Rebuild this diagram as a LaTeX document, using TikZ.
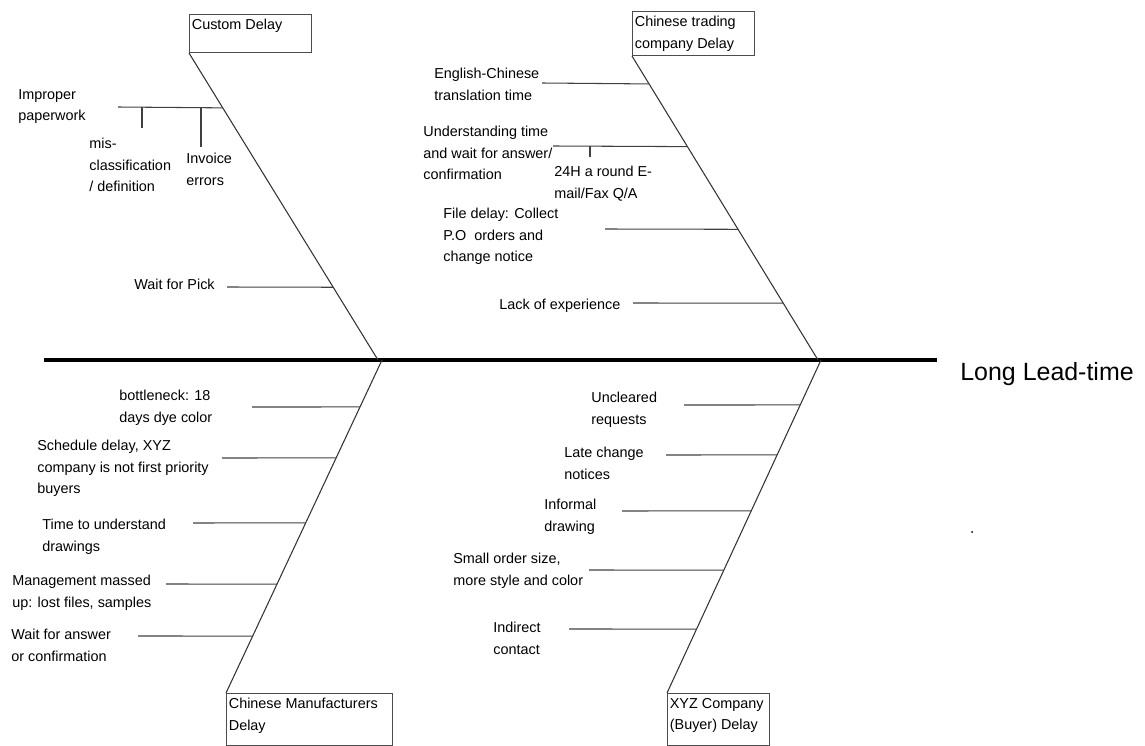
\documentclass[tikz,border=0pt]{standalone}
\usepackage{fontspec}
\setmainfont{Liberation Sans}
\usetikzlibrary{calc}
\begin{document}
\begin{tikzpicture}[x=0.02cm,y=-0.02cm,
  txt/.style={anchor=north west, inner sep=0pt, align=left, font=\fontsize{8.2}{12.1}\selectfont},
  box/.style={draw=black!70, line width=0.6pt, anchor=north west, inner sep=0pt},
  boxtext/.style={anchor=north west, inner sep=0pt, xshift=0.05cm, yshift=-0.1cm, align=left, font=\fontsize{8.2}{12.1}\selectfont},
  bone/.style={line width=0.6pt, draw=black!80},
  twig/.style={line width=0.6pt, draw=black!75},
  spine/.style={line width=2.3pt, draw=black}]
\useasboundingbox (0,0) rectangle (1145,746);

% main spine and effect
\coordinate (tail) at (44,360);
\coordinate (head) at (937,360);
\coordinate (jul) at (378,360);
\coordinate (jll) at (382,360);
\coordinate (jur) at (818,360);
\coordinate (jlr) at (821,360);
\draw[spine] (tail) -- (head);
\node[anchor=base west, inner sep=0pt, font=\fontsize{14.2}{17}\selectfont] (effect) at (960,380) {Long Lead-time};

% category boxes
\node[box, minimum width=2.44cm, minimum height=0.76cm, label={[boxtext]north west:Custom Delay}] (custom) at (189,14) {};
\node[box, minimum width=2.44cm, minimum height=0.88cm, label={[boxtext]north west:Chinese trading\\company Delay}] (trading) at (632,11) {};
\node[box, minimum width=3.32cm, minimum height=1.04cm, label={[boxtext]north west:Chinese Manufacturers\\Delay}] (manu) at (226,693) {};
\node[box, minimum width=2.04cm, minimum height=1.04cm, label={[boxtext]north west:XYZ Company\\(Buyer) Delay}] (xyz) at (667,693) {};

% bones
\draw[bone] (custom.south west) -- (jul);
\draw[bone] (trading.south west) -- (jur);
\draw[bone] (jll) -- (manu.north west);
\draw[bone] (jlr) -- (xyz.north west);

% Custom Delay causes
\node[txt] (improper) at (18,89) {Improper\\paperwork};
\node[txt] (miscls) at (89,138) {mis-\\classification\\/ definition};
\node[txt] (invoice) at (186,153) {Invoice\\errors};
\node[txt] (pick) at (134,279) {Wait for Pick};
\coordinate (c1) at ($(custom.south west)!0.1786!(jul)$);
\coordinate (c2) at ($(custom.south west)!0.763!(jul)$);
\draw[twig] (118,107) -- (c1);
\draw[twig] (142,107) -- (142,128);
\draw[twig] (201,107) -- (201,147);
\draw[twig] (227,287) -- (c2);

% Chinese trading company causes
\node[txt] (english) at (434,68) {English-Chinese\\translation time};
\node[txt] (underst) at (423,126) {Understanding time\\and wait for answer/\\confirmation};
\node[txt] (round) at (554,166) {24H a round E-\\mail/Fax Q/A};
\node[txt] (filedelay) at (443,208) {File delay: Collect\\P.O\ \ orders and\\change notice};
\node[txt] (lack) at (499,299) {Lack of experience};
\coordinate (t1) at ($(trading.south west)!0.0918!(jur)$);
\coordinate (t2) at ($(trading.south west)!0.298!(jur)$);
\coordinate (t3) at ($(trading.south west)!0.570!(jur)$);
\coordinate (t4) at ($(trading.south west)!0.813!(jur)$);
\draw[twig] (542,83) -- (t1);
\draw[twig] (553,146) -- (t2);
\draw[twig] (590,146) -- (590,157);
\draw[twig] (605,229) -- (t3);
\draw[twig] (633,303) -- (t4);

% Chinese Manufacturers causes
\node[txt] (bottle) at (119,390) {bottleneck: 18\\days dye color};
\node[txt] (sched) at (37,440) {Schedule delay, XYZ\\company is not first priority\\buyers};
\node[txt] (drawings) at (42,519) {Time to understand\\drawings};
\node[txt] (mgmt) at (12,575) {Management massed\\up: lost files, samples};
\node[txt] (waitans) at (11,629) {Wait for answer\\or confirmation};
\coordinate (m1) at ($(jll)!0.141!(manu.north west)$);
\coordinate (m2) at ($(jll)!0.294!(manu.north west)$);
\coordinate (m3) at ($(jll)!0.489!(manu.north west)$);
\coordinate (m4) at ($(jll)!0.673!(manu.north west)$);
\coordinate (m5) at ($(jll)!0.829!(manu.north west)$);
\draw[twig] (252,407) -- (m1);
\draw[twig] (222,458) -- (m2);
\draw[twig] (193,523) -- (m3);
\draw[twig] (166,584) -- (m4);
\draw[twig] (138,636) -- (m5);

% XYZ Company (Buyer) causes
\node[txt] (uncleared) at (591,392) {Uncleared\\requests};
\node[txt] (late) at (564,447) {Late change\\notices};
\node[txt] (informal) at (544,499) {Informal\\drawing};
\node[txt] (small) at (453,553) {Small order size,\\more style and color};
\node[txt] (indirect) at (493,622) {Indirect\\contact};
\coordinate (x1) at ($(jlr)!0.135!(xyz.north west)$);
\coordinate (x2) at ($(jlr)!0.285!(xyz.north west)$);
\coordinate (x3) at ($(jlr)!0.453!(xyz.north west)$);
\coordinate (x4) at ($(jlr)!0.631!(xyz.north west)$);
\coordinate (x5) at ($(jlr)!0.808!(xyz.north west)$);
\draw[twig] (684,405) -- (x1);
\draw[twig] (666,455) -- (x2);
\draw[twig] (622,511) -- (x3);
\draw[twig] (589,570) -- (x4);
\draw[twig] (569,629) -- (x5);

% stray dot
\fill (972,532) circle (0.02cm);
\end{tikzpicture}
\end{document}
